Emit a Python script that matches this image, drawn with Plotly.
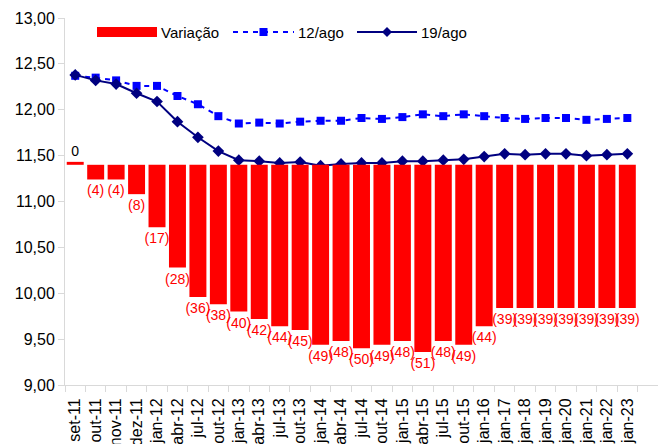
import plotly.graph_objects as go

categorias = ["set-11", "out-11", "nov-11", "dez-11", "jan-12", "abr-12", "jul-12", "out-12",
              "jan-13", "abr-13", "jul-13", "out-13", "jan-14", "abr-14", "jul-14", "out-14",
              "jan-15", "abr-15", "jul-15", "out-15", "jan-16", "jan-17", "jan-18", "jan-19",
              "jan-20", "jan-21", "jan-22", "jan-23"]

variacao = [0.8, -4, -4, -8, -17, -28, -36, -38, -40, -42, -44, -45, -49, -48, -50, -49,
            -48, -51, -48, -49, -44, -39, -39, -39, -39, -39, -39, -39]

ago12 = [12.37, 12.35, 12.32, 12.26, 12.26, 12.15, 12.06, 11.93, 11.85, 11.86, 11.85, 11.87,
         11.88, 11.88, 11.91, 11.90, 11.92, 11.95, 11.93, 11.95, 11.93, 11.91, 11.90, 11.91,
         11.91, 11.89, 11.90, 11.91]

ago19 = [12.38, 12.32, 12.28, 12.18, 12.09, 11.87, 11.70, 11.55, 11.45, 11.44, 11.42, 11.43,
         11.39, 11.41, 11.42, 11.42, 11.44, 11.44, 11.45, 11.46, 11.49, 11.52, 11.51, 11.52,
         11.52, 11.50, 11.51, 11.52]

y_ticks = [9.0, 9.5, 10.0, 10.5, 11.0, 11.5, 12.0, 12.5, 13.0]

legend_names = ["Variação", "12/ago", "19/ago"]

FONT = "Liberation Sans, Arial, sans-serif"
W, H = 671, 444
ML, MR, MT, MB = 65, 13, 18, 59
PW, PH = W - ML - MR, H - MT - MB
DASH12 = "5px,5px"


def px_x(p):
    return (p - ML) / PW


def px_y(p):
    return (H - MB - p) / PH


def rotulo(v):
    n = int(v)
    return f"({abs(n)})" if n < 0 else str(n)


bar_text = [rotulo(v) for v in variacao]
bar_text_color = ["#FF0000" if int(v) < 0 else "#000000" for v in variacao]

fig = go.Figure()

fig.add_trace(go.Bar(
    x=categorias, y=variacao, name=legend_names[0], yaxis="y2",
    marker=dict(color="#FF0000", line=dict(width=0)),
    text=bar_text, textposition="outside", textangle=0, constraintext="none",
    textfont=dict(color=bar_text_color, size=14, family=FONT),
    cliponaxis=False, showlegend=False,
))

fig.add_trace(go.Scatter(
    x=categorias, y=ago12, name=legend_names[1], mode="lines+markers",
    line=dict(color="#0000FF", width=2, dash=DASH12),
    marker=dict(symbol="square", size=8, color="#0000FF"),
    showlegend=False,
))

fig.add_trace(go.Scatter(
    x=categorias, y=ago19, name=legend_names[2], mode="lines+markers",
    line=dict(color="#000080", width=2),
    marker=dict(symbol="diamond", size=9, color="#000080"),
    showlegend=False,
))

# custom legend (drawn in paper coordinates)
ly = 32
shapes = [
    dict(type="rect", xref="paper", yref="paper", x0=px_x(97), x1=px_x(157),
         y0=px_y(ly + 5), y1=px_y(ly - 5), fillcolor="#FF0000", line=dict(width=0)),
    dict(type="line", xref="paper", yref="paper", x0=px_x(233), x1=px_x(294),
         y0=px_y(ly), y1=px_y(ly), line=dict(color="#0000FF", width=2, dash=DASH12)),
    dict(type="rect", xref="paper", yref="paper", x0=px_x(259.5), x1=px_x(267.5),
         y0=px_y(ly + 4), y1=px_y(ly - 4), fillcolor="#0000FF", line=dict(width=0)),
    dict(type="line", xref="paper", yref="paper", x0=px_x(357), x1=px_x(417),
         y0=px_y(ly), y1=px_y(ly), line=dict(color="#000080", width=2)),
    dict(type="path", xref="paper", yref="paper",
         path=(f"M{px_x(387)},{px_y(ly - 5)} L{px_x(392)},{px_y(ly)} "
               f"L{px_x(387)},{px_y(ly + 5)} L{px_x(382)},{px_y(ly)} Z"),
         fillcolor="#000080", line=dict(width=0)),
]
annotations = [
    dict(text=legend_names[0], xref="paper", yref="paper", x=px_x(159), y=px_y(ly),
         xanchor="left", yanchor="middle", showarrow=False, font=dict(size=15)),
    dict(text=legend_names[1], xref="paper", yref="paper", x=px_x(296), y=px_y(ly),
         xanchor="left", yanchor="middle", showarrow=False, font=dict(size=15)),
    dict(text=legend_names[2], xref="paper", yref="paper", x=px_x(419), y=px_y(ly),
         xanchor="left", yanchor="middle", showarrow=False, font=dict(size=15)),
]

fig.update_layout(
    width=W, height=H,
    margin=dict(l=ML, r=MR, t=MT, b=MB, autoexpand=False),
    paper_bgcolor="white", plot_bgcolor="white",
    font=dict(family=FONT, size=15, color="#000000"),
    bargap=0.17,
    showlegend=False,
    shapes=shapes,
    annotations=annotations,
    xaxis=dict(
        type="category", range=[-0.5, 28.5], tickangle=-90, automargin=False,
        showline=True, linecolor="#d9d9d9", linewidth=1,
        ticks="outside", tickson="boundaries", ticklen=6, tickcolor="#d9d9d9",
        showgrid=False, tickfont=dict(size=16), ticklabelstandoff=6,
    ),
    yaxis=dict(
        range=[9, 13], tickvals=y_ticks, automargin=False,
        ticktext=[f"{v:.2f}".replace(".", ",") for v in y_ticks],
        showline=True, linecolor="#d9d9d9", linewidth=1,
        ticks="outside", ticklen=6, tickcolor="#d9d9d9",
        showgrid=False, zeroline=False, tickfont=dict(size=16),
    ),
    yaxis2=dict(range=[-60, 40], overlaying="y", visible=False, showgrid=False,
                zeroline=False, automargin=False),
)

fig.write_html("out.html", config={"displayModeBar": False},
               post_script="document.body.style.margin='0px';")
